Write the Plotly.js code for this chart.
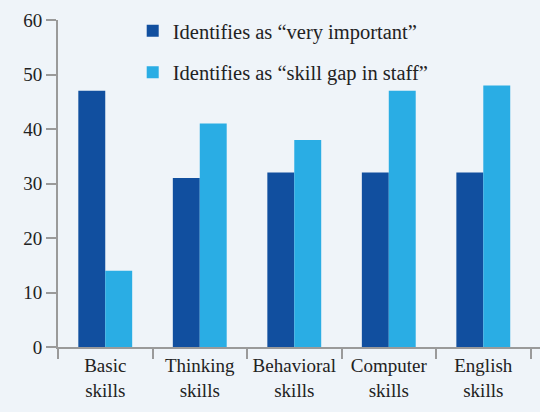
<!DOCTYPE html>
<html>
<head>
<meta charset="utf-8">
<script src="https://cdn.plot.ly/plotly-3.0.1.min.js"></script>
<style>html,body{margin:0;padding:0;background:#eff4f9;}#chart{width:540px;height:412px;}</style>
</head>
<body>
<div id="chart"></div>
<script>
var categories = ["Basic<br>skills", "Thinking<br>skills", "Behavioral<br>skills", "Computer<br>skills", "English<br>skills"];
var seriesNames = ["Identifies as \u201cvery important\u201d", "Identifies as \u201cskill gap in staff\u201d"];
var veryImportant = [47, 31, 32, 32, 32];
var skillGap = [14, 41, 38, 47, 48];
var yTicks = [0, 10, 20, 30, 40, 50, 60];

var font = "Liberation Serif";
var traces = [
  {type: "bar", name: seriesNames[0], x: categories, y: veryImportant, marker: {color: "#114f9f"}, legendgroup: "a"},
  {type: "bar", name: seriesNames[1], x: categories, y: skillGap, marker: {color: "#2aade4"}, legendgroup: "b"}
];
var layout = {
  width: 540, height: 412,
  paper_bgcolor: "#eff4f9", plot_bgcolor: "#eff4f9",
  margin: {l: 58, r: 0, t: 20, b: 65},
  barmode: "group", bargap: 0.43, bargroupgap: 0,
  font: {family: font, color: "#222", size: 19},
  showlegend: true,
  legend: {x: 0.155, y: 1.028, xanchor: "left", yanchor: "top", bgcolor: "rgba(0,0,0,0)",
           font: {family: font, size: 20.5, color: "#222"}, traceorder: "grouped", tracegroupgap: 12},
  xaxis: {type: "category", range: [-0.5, 4.6], showline: true, linecolor: "#9a9a9a", linewidth: 2,
          ticks: "outside", tickson: "boundaries", ticklen: 10, tickwidth: 2, tickcolor: "#9a9a9a",
          showgrid: false, zeroline: false, tickfont: {family: font, size: 19, color: "#222"}, fixedrange: true},
  yaxis: {range: [0, 60], tickvals: yTicks, showline: true, linecolor: "#9a9a9a", linewidth: 2,
          ticks: "outside", ticklen: 10, tickwidth: 2, tickcolor: "#9a9a9a",
          showgrid: false, zeroline: false, tickfont: {family: font, size: 19, color: "#222"}, fixedrange: true}
};
Plotly.newPlot("chart", traces, layout, {displayModeBar: false, staticPlot: true});
</script>
</body>
</html>
